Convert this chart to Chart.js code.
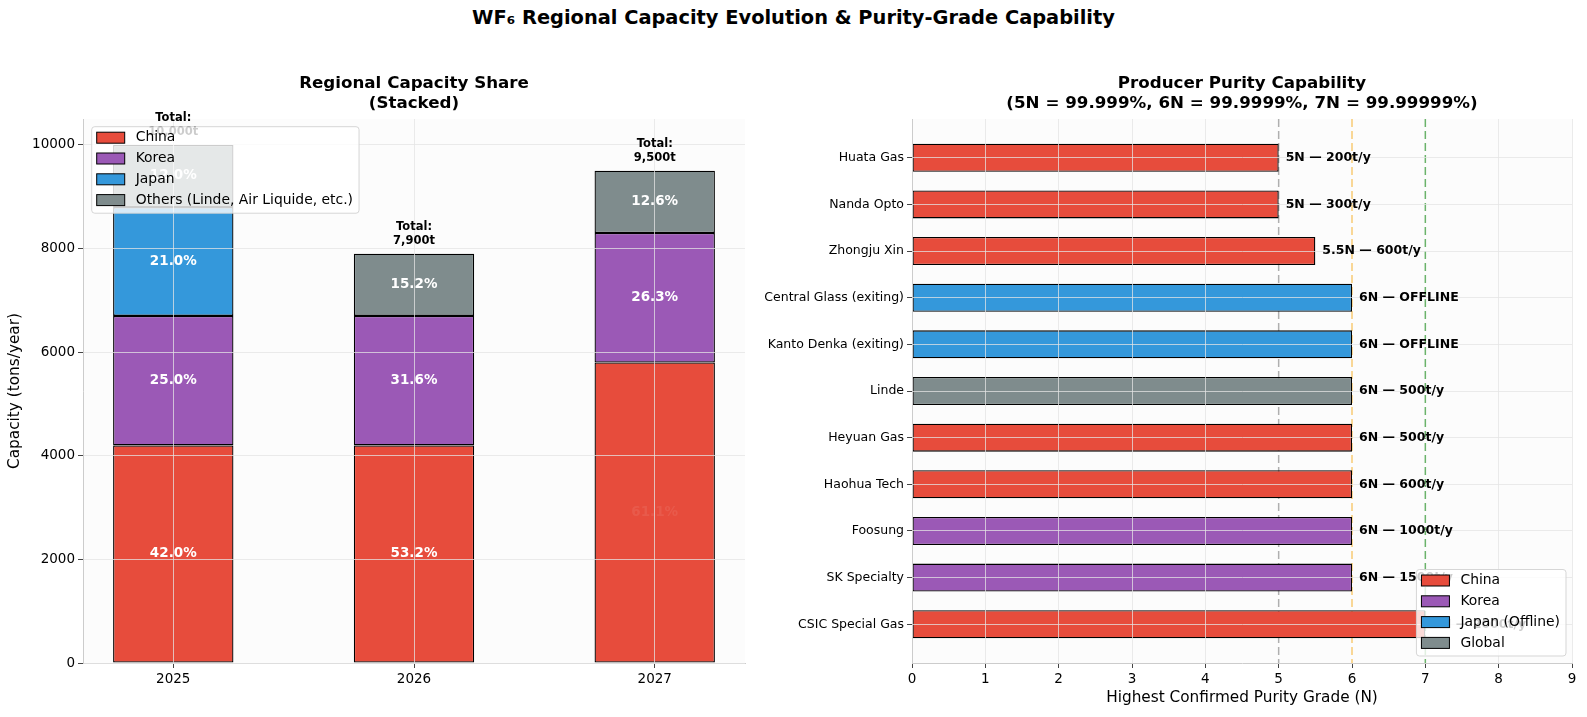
<!DOCTYPE html>
<html>
<head>
<meta charset="utf-8">
<script src="https://cdn.jsdelivr.net/npm/chart.js@4.4.1/dist/chart.umd.min.js"></script>
<style>
  body { margin: 0; background: #fff; width: 1587px; height: 717px; overflow: hidden; position: relative; font-family: "DejaVu Sans", sans-serif; }
  #title { position: absolute; left: 0; top: 7px; width: 1587px; text-align: center; font-weight: bold; font-size: 19.4px; line-height: 22px; }
  .box { position: absolute; top: 0; height: 717px; }
</style>
</head>
<body>
<div id="title">WF₆ Regional Capacity Evolution &amp; Purity-Grade Capability</div>
<div class="box" style="left:0;width:793px"><canvas id="share"></canvas></div>
<div class="box" style="left:740px;width:847px"><canvas id="purity"></canvas></div>

<script>
// left panel: capacity by region (t/y)
const years = ["2025", "2026", "2027"];
const chinaCap = [4200, 4200, 5800];
const koreaCap = [2500, 2500, 2500];
const japanCap = [2100, null, null];
const othersCap = [1200, 1200, 1200];
const capTicks = [0, 2000, 4000, 6000, 8000, 10000];

// right panel: producers, listed top to bottom
const producers = ["Huata Gas", "Nanda Opto", "Zhongju Xin", "Central Glass (exiting)", "Kanto Denka (exiting)",
                   "Linde", "Heyuan Gas", "Haohua Tech", "Foosung", "SK Specialty", "CSIC Special Gas"];
const purityGrade = [5, 5, 5.5, 6, 6, 6, 6, 6, 6, 6, 7];
const capacityText = ["200t/y", "300t/y", "600t/y", "OFFLINE", "OFFLINE", "500t/y", "500t/y", "600t/y", "1000t/y", "1500t/y", "2000t/y"];
const producerRegion = ["China", "China", "China", "Japan", "Japan", "Global", "China", "China", "Korea", "Korea", "China"];
const purityTicks = [0, 1, 2, 3, 4, 5, 6, 7, 8, 9];
const gradeLines = [5, 6, 7];

const COLORS = { China: "#e74c3c", Korea: "#9b59b6", Japan: "#3498db", Others: "#7f8c8d", Global: "#7f8c8d" };
const LINE_COLORS = ["rgba(150,150,150,0.75)", "rgba(245,185,70,0.75)", "rgba(70,160,70,0.8)"];
const GRID = "rgba(228,228,228,0.75)";
const FONT = "DejaVu Sans";

Chart.defaults.font.family = FONT;
Chart.defaults.color = "#000";
Chart.defaults.animation = false;

function fillArea(chart) {
  const a = chart.chartArea, ctx = chart.ctx;
  ctx.save();
  ctx.fillStyle = "#fcfcfc";
  ctx.fillRect(a.left, a.top, a.right - a.left, a.bottom - a.top);
  ctx.restore();
}

function drawTitle(chart, lines) {
  const a = chart.chartArea, ctx = chart.ctx;
  ctx.save();
  ctx.font = "bold 16.7px " + FONT;
  ctx.fillStyle = "#000";
  ctx.textAlign = "center";
  ctx.textBaseline = "middle";
  lines.forEach((t, i) => ctx.fillText(t, (a.left + a.right) / 2, a.top - 35 + i * 20));
  ctx.restore();
}

function drawLegend(ctx, x, y, items, anchorRight) {
  ctx.save();
  ctx.font = "13.9px " + FONT;
  const tw = Math.max(...items.map(it => ctx.measureText(it.label).width));
  const w = 44 + tw + 6, h = 86.5;
  const bx = anchorRight ? x - w : x, by = anchorRight ? y - h : y;
  ctx.fillStyle = "rgba(255,255,255,0.8)";
  ctx.strokeStyle = "rgba(210,210,210,0.9)";
  ctx.lineWidth = 1;
  ctx.beginPath();
  ctx.roundRect(bx, by, w, h, 3);
  ctx.fill();
  ctx.stroke();
  ctx.textBaseline = "middle";
  items.forEach((it, i) => {
    const cy = by + 11 + i * 20.8;
    ctx.fillStyle = it.color;
    ctx.fillRect(bx + 5, cy - 5.5, 28, 11);
    ctx.strokeStyle = "#000";
    ctx.strokeRect(bx + 5, cy - 5.5, 28, 11);
    ctx.fillStyle = "#000";
    ctx.fillText(it.label, bx + 44, cy);
  });
  ctx.restore();
}

// ---------- left: stacked capacity ----------
const totals = years.map((_, i) => chinaCap[i] + koreaCap[i] + (japanCap[i] || 0) + othersCap[i]);

function stackSet(label, values, color) {
  return {
    label: label,
    data: values.map((v, i) => ({ x: i, y: v })),
    backgroundColor: color,
    borderColor: "#000",
    borderWidth: 1.3,
    borderSkipped: false,
    barPercentage: 0.5,
    categoryPercentage: 1
  };
}

const shareLegend = [
  { label: "China", color: COLORS.China },
  { label: "Korea", color: COLORS.Korea },
  { label: "Japan", color: COLORS.Japan },
  { label: "Others (Linde, Air Liquide, etc.)", color: COLORS.Others }
];

new Chart(document.getElementById("share"), {
  type: "bar",
  data: {
    datasets: [
      stackSet("China", chinaCap, COLORS.China),
      stackSet("Korea", koreaCap, COLORS.Korea),
      stackSet("Japan", japanCap, COLORS.Japan),
      stackSet("Others (Linde, Air Liquide, etc.)", othersCap, COLORS.Others)
    ]
  },
  options: {
    responsive: true,
    maintainAspectRatio: false,
    layout: { padding: { left: 0, top: 119, right: 48, bottom: 0 } },
    plugins: { legend: { display: false }, tooltip: { enabled: false } },
    scales: {
      x: {
        type: "linear", min: -0.375, max: 2.375, stacked: true, offset: false,
        afterBuildTicks: s => { s.ticks = years.map((_, i) => ({ value: i })); },
        afterFit: s => { s.height = 54; },
        ticks: { callback: v => years[v], font: { size: 13.5 }, color: "#000", padding: 3, maxRotation: 0 },
        grid: { color: GRID, z: 1, offset: false, tickColor: "#444", tickLength: 5 },
        border: { color: "#cccccc", z: 1 }
      },
      y: {
        min: 0, max: 10500, stacked: true,
        afterBuildTicks: s => { s.ticks = capTicks.map(v => ({ value: v })); },
        afterFit: s => { s.width = 83; },
        ticks: { callback: v => String(v), font: { size: 13.5 }, color: "#000", padding: 3 },
        grid: { color: GRID, z: 1, tickColor: "#444", tickLength: 5 },
        border: { color: "#cccccc", z: 1 },
        title: { display: true, text: "Capacity (tons/year)", font: { size: 15.3 }, color: "#000", padding: { top: 6, bottom: 0 } }
      }
    }
  },
  plugins: [{
    id: "shareDecor",
    beforeDraw: chart => fillArea(chart),
    afterDraw: chart => {
      const ctx = chart.ctx, ys = chart.scales.y;
      ctx.save();
      ctx.textAlign = "center";
      ctx.textBaseline = "middle";
      // percentage labels (the 2027 China one is almost washed out in the original)
      ctx.font = "bold 13.5px " + FONT;
      chart.data.datasets.forEach((ds, d) => {
        chart.getDatasetMeta(d).data.forEach((bar, i) => {
          const v = ds.data[i].y;
          if (v == null) return;
          ctx.globalAlpha = (d === 0 && i === 2) ? 0.08 : 1;
          ctx.fillStyle = "#fff";
          ctx.fillText((v / totals[i] * 100).toFixed(1) + "%", bar.x, (bar.y + bar.base) / 2);
        });
      });
      ctx.globalAlpha = 1;
      // totals above stacks
      ctx.font = "bold 11.5px " + FONT;
      ctx.fillStyle = "#000";
      const meta = chart.getDatasetMeta(0);
      totals.forEach((t, i) => {
        const top = ys.getPixelForValue(t);
        ctx.fillText("Total:", meta.data[i].x, top - 27);
        ctx.fillText(t.toLocaleString("en-US") + "t", meta.data[i].x, top - 13);
      });
      ctx.restore();
      drawTitle(chart, ["Regional Capacity Share", "(Stacked)"]);
      const a = chart.chartArea;
      drawLegend(ctx, a.left + 8.7, a.top + 7.7, shareLegend, false);
    }
  }]
});

// ---------- right: purity capability ----------
const n = producers.length;
const purityLegend = [
  { label: "China", color: COLORS.China },
  { label: "Korea", color: COLORS.Korea },
  { label: "Japan (Offline)", color: COLORS.Japan },
  { label: "Global", color: COLORS.Global }
];

new Chart(document.getElementById("purity"), {
  type: "bar",
  data: {
    datasets: [{
      label: "Purity",
      data: purityGrade.map((g, i) => ({ x: g, y: n - 1 - i })),
      backgroundColor: producerRegion.map(r => COLORS[r]),
      borderColor: "#000",
      borderWidth: 1.3,
      borderSkipped: false,
      barPercentage: 0.6,
      categoryPercentage: 1
    }]
  },
  options: {
    indexAxis: "y",
    responsive: true,
    maintainAspectRatio: false,
    layout: { padding: { left: 0, top: 119, right: 15, bottom: 0 } },
    plugins: { legend: { display: false }, tooltip: { enabled: false } },
    scales: {
      x: {
        type: "linear", min: 0, max: 9, offset: false,
        afterBuildTicks: s => { s.ticks = purityTicks.map(v => ({ value: v })); },
        afterFit: s => { s.height = 54; },
        ticks: { font: { size: 13.5 }, color: "#000", padding: 3 },
        grid: {
          color: c => (c.tick && gradeLines.includes(c.tick.value)) ? "rgba(0,0,0,0)" : GRID,
          z: 1, offset: false, tickColor: "#444", tickLength: 5
        },
        border: { color: "#cccccc", z: 1 },
        title: { display: true, text: "Highest Confirmed Purity Grade (N)", font: { size: 15.3 }, color: "#000", padding: { top: 4, bottom: 10 } }
      },
      y: {
        type: "linear", min: -0.83, max: 10.83, offset: false,
        afterBuildTicks: s => { s.ticks = producers.map((_, i) => ({ value: i })); },
        afterFit: s => { s.width = 172; },
        ticks: { callback: v => producers[n - 1 - v], font: { size: 12.5 }, color: "#000", padding: 3 },
        grid: { color: GRID, z: 1, offset: false, tickColor: "#444", tickLength: 5 },
        border: { color: "#cccccc", z: 1 }
      }
    }
  },
  plugins: [{
    id: "purityDecor",
    beforeDraw: chart => fillArea(chart),
    beforeDatasetsDraw: chart => {
      const ctx = chart.ctx, a = chart.chartArea, xs = chart.scales.x;
      ctx.save();
      ctx.lineWidth = 1.5;
      ctx.setLineDash([8, 4]);
      gradeLines.forEach((g, k) => {
        const px = xs.getPixelForValue(g);
        ctx.strokeStyle = LINE_COLORS[k];
        ctx.beginPath();
        ctx.moveTo(px, a.top);
        ctx.lineTo(px, a.bottom);
        ctx.stroke();
      });
      ctx.restore();
    },
    afterDraw: chart => {
      const ctx = chart.ctx;
      ctx.save();
      ctx.font = "bold 12.5px " + FONT;
      ctx.fillStyle = "#000";
      ctx.textAlign = "left";
      ctx.textBaseline = "middle";
      chart.getDatasetMeta(0).data.forEach((bar, i) => {
        ctx.fillText(purityGrade[i] + "N — " + capacityText[i], bar.x + 7, bar.y);
      });
      ctx.restore();
      drawTitle(chart, ["Producer Purity Capability", "(5N = 99.999%, 6N = 99.9999%, 7N = 99.99999%)"]);
      const a = chart.chartArea;
      drawLegend(ctx, a.right - 6, a.bottom - 7, purityLegend, true);
    }
  }]
});
</script>
</body>
</html>
